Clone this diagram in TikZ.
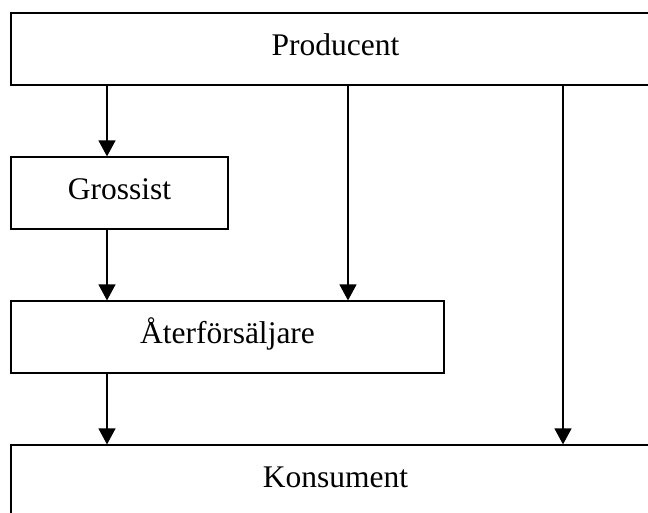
\documentclass[tikz,border=0pt]{standalone}
\usepackage{fontspec}
\setmainfont{Liberation Serif}
\usetikzlibrary{arrows.meta}
\begin{document}
\begin{tikzpicture}[x=1pt,y=-1pt,
  box/.style={draw=black, line width=1.2pt, rectangle, inner sep=0pt,
    minimum height=72pt, text height=42pt, text depth=30pt,
    font=\fontsize{31.5}{36}\selectfont},
  flow/.style={draw=black, line width=1.2pt, -{Triangle[length=16pt,width=17pt]}}]
  \useasboundingbox (0,0) rectangle (648,512);
  \clip (0,0) rectangle (648,512);

  % Distribution chain boxes
  \node[box, minimum width=649pt] (prod) at (335.5,49)  {Producent};
  \node[box, minimum width=217pt] (gros) at (119.5,193) {Grossist};
  \node[box, minimum width=433pt] (ater) at (227.5,337) {Återförsäljare};
  \node[box, minimum width=649pt] (kons) at (335.5,481) {Konsument};

  % Columns along which the arrows run
  \coordinate (colA) at (107,0);
  \coordinate (colB) at (348,0);
  \coordinate (colC) at (563,0);

  \draw[flow] (prod.south -| colA) -- (gros.north -| colA);
  \draw[flow] (gros.south -| colA) -- (ater.north -| colA);
  \draw[flow] (ater.south -| colA) -- (kons.north -| colA);
  \draw[flow] (prod.south -| colB) -- (ater.north -| colB);
  \draw[flow] (prod.south -| colC) -- (kons.north -| colC);
\end{tikzpicture}
\end{document}
